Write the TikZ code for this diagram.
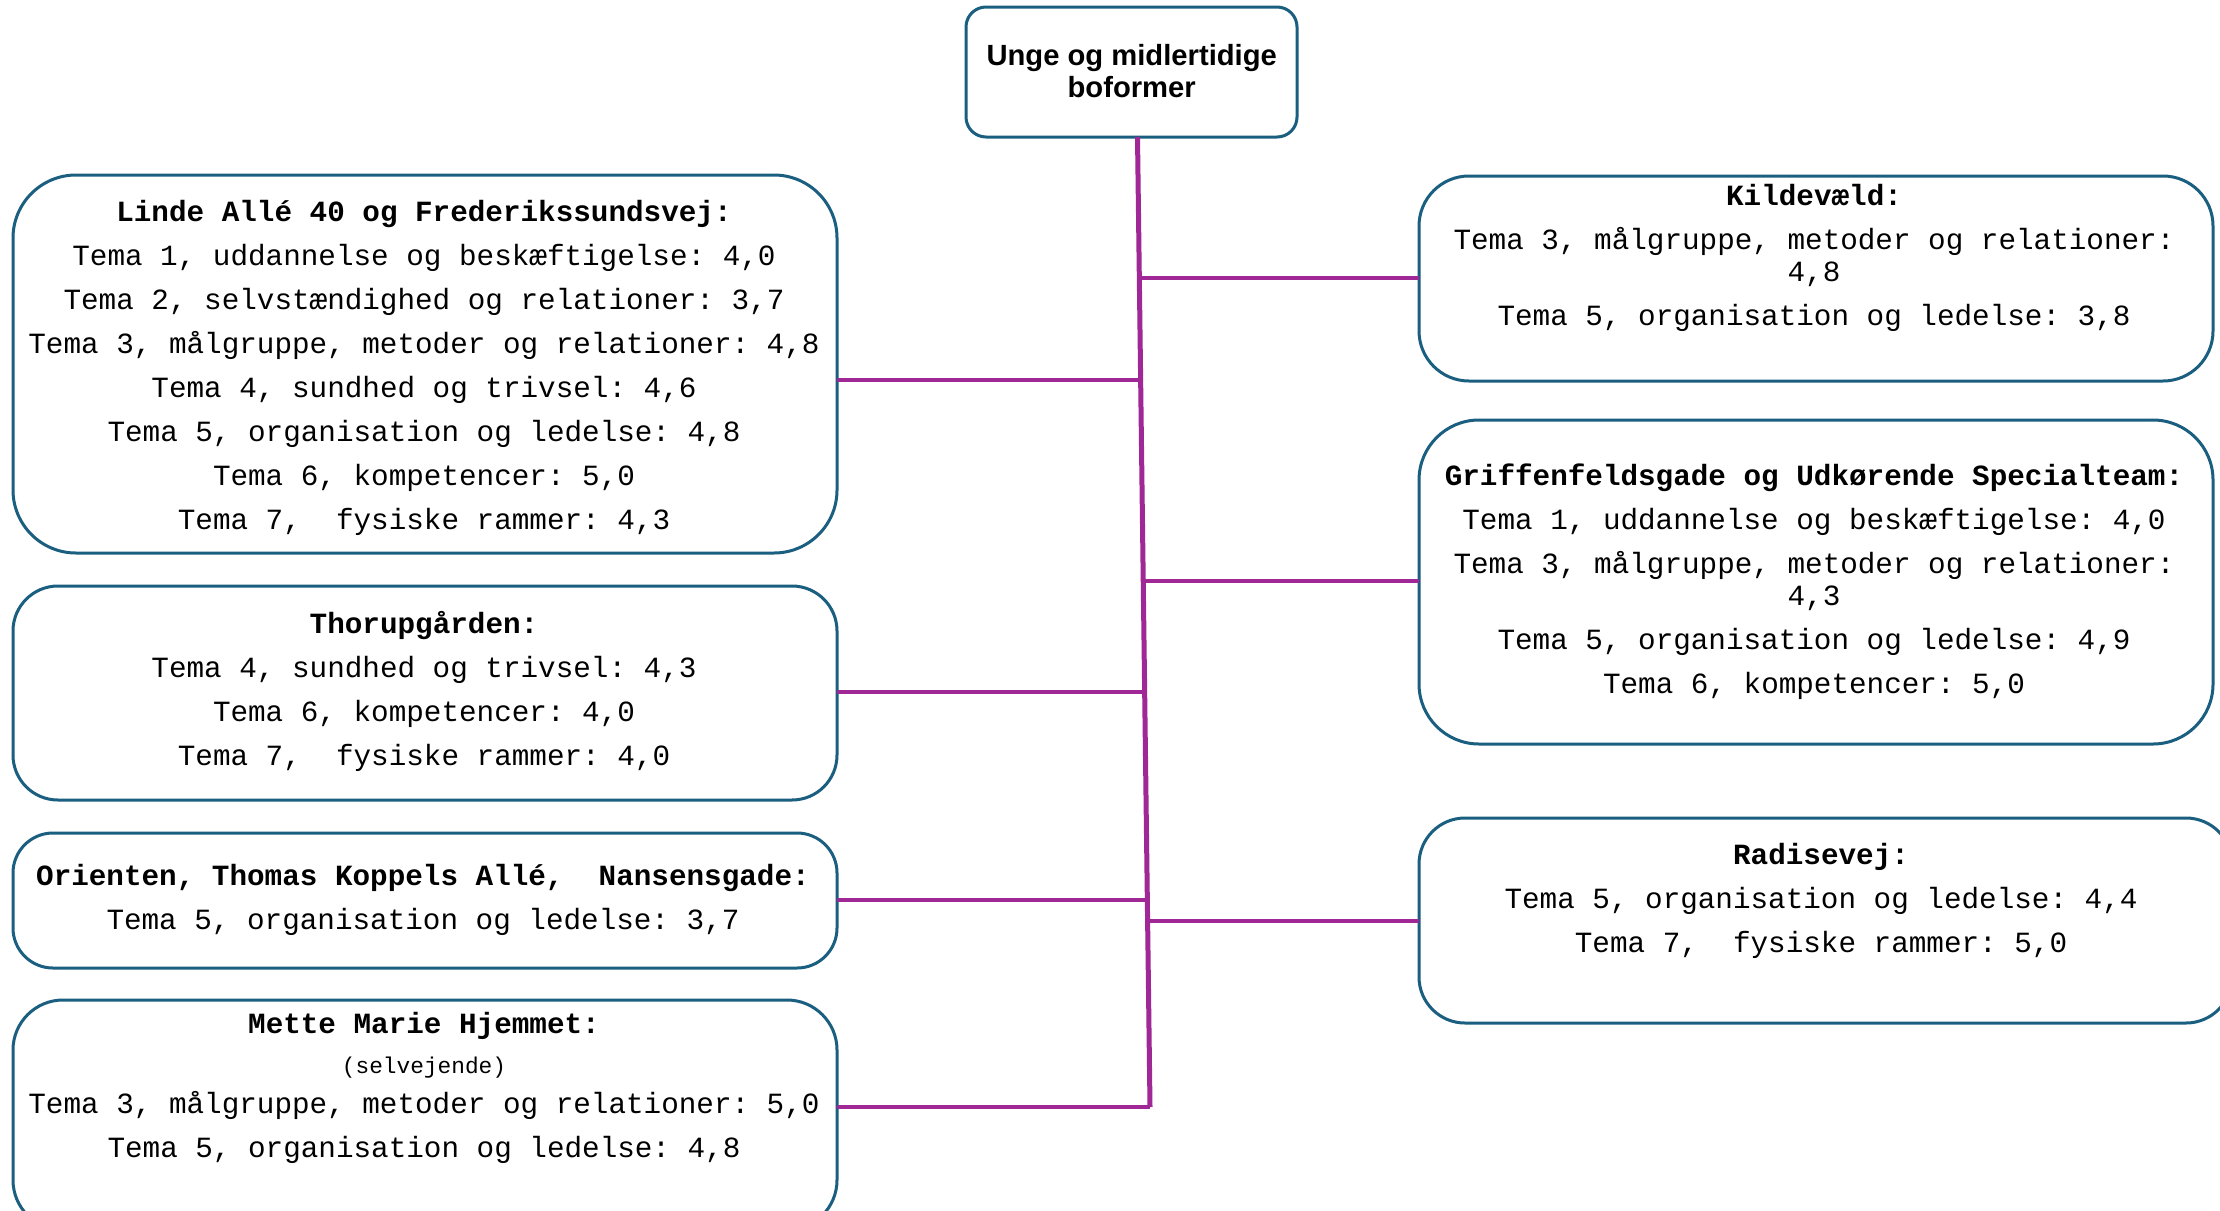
\documentclass[tikz,border=0pt]{standalone}
\usepackage{fontspec}
\setmainfont{Liberation Serif}
\setsansfont{Liberation Sans}
\setmonofont{Liberation Mono}
\usetikzlibrary{calc}
\definecolor{boxblue}{RGB}{26,94,128}
\definecolor{linkpurple}{RGB}{160,40,150}
\newcommand\fs{\rule{0pt}{14pt}}
\begin{document}
\begin{tikzpicture}[x=0.5pt,y=-0.5pt,
  box/.style={draw=boxblue,line width=1.5pt,rectangle,inner sep=0pt,outer sep=0pt},
  txt/.style={font=\ttfamily\fontsize{14.65pt}{15.85pt}\selectfont,align=center,inner sep=0pt,anchor=north},
  ttl/.style={font=\sffamily\bfseries\fontsize{14.6pt}{16pt}\selectfont,align=center,inner sep=0pt,anchor=north},
  link/.style={draw=linkpurple,line width=2pt},
  trunk/.style={draw=linkpurple,line width=2.5pt}]
\useasboundingbox (0,0) rectangle (2220,1210);
\fill[white] (0,0) rectangle (2220,1210);

% boxes
\node[box,minimum width=165.5pt,minimum height=65pt,rounded corners=10pt] (top) at (1131.5,72) {};
\node[box,minimum width=412pt,minimum height=189pt,rounded corners=31.5pt] (linde) at (425,364) {};
\node[box,minimum width=412pt,minimum height=107pt,rounded corners=22.5pt] (thor) at (425,693) {};
\node[box,minimum width=412pt,minimum height=67.5pt,rounded corners=20pt] (orient) at (425,900.5) {};
\node[box,minimum width=412pt,minimum height=115pt,rounded corners=25pt] (mette) at (425,1115) {};
\node[box,minimum width=397pt,minimum height=102.5pt,rounded corners=25pt] (kilde) at (1816,278.5) {};
\node[box,minimum width=397pt,minimum height=162pt,rounded corners=30pt] (griff) at (1816,582) {};
\node[box,minimum width=406.5pt,minimum height=102.5pt,rounded corners=23pt] (radis) at (1825.5,920.5) {};

% texts
\node[ttl] (toptxt) at (1131.7,37) {\fs Unge og midlertidige\\boformer};

\node[txt] (lindetxt) at (424,193) {\fs\textbf{Linde Allé 40 og Frederikssundsvej:}\\[6.15pt]
Tema 1, uddannelse og beskæftigelse: 4,0\\[6.15pt]
Tema 2, selvstændighed og relationer: 3,7\\[6.15pt]
Tema 3, målgruppe, metoder og relationer: 4,8\\[6.15pt]
Tema 4, sundhed og trivsel: 4,6\\[6.15pt]
Tema 5, organisation og ledelse: 4,8\\[6.15pt]
Tema 6, kompetencer: 5,0\\[6.15pt]
Tema 7,\ \ fysiske rammer: 4,3};

\node[txt] (thortxt) at (424,605.4) {\fs\textbf{Thorupgården:}\\[6.15pt]
Tema 4, sundhed og trivsel: 4,3\\[6.15pt]
Tema 6, kompetencer: 4,0\\[6.15pt]
Tema 7,\ \ fysiske rammer: 4,0};

\node[txt] (orienttxt) at (423,857) {\fs\textbf{Orienten, Thomas Koppels Allé,\ \ Nansensgade:}\\[6.15pt]
Tema 5, organisation og ledelse: 3,7};

\node[txt] (mettetxt) at (424,1005) {\fs\textbf{Mette Marie Hjemmet:}\\[4.15pt]
{\fontsize{11.4pt}{12pt}\selectfont (selvejende)}\\[4.15pt]
Tema 3, målgruppe, metoder og relationer: 5,0\\[6.15pt]
Tema 5, organisation og ledelse: 4,8};

\node[txt] (kildetxt) at (1814,177) {\fs\textbf{Kildevæld:}\\[6.15pt]
Tema 3, målgruppe, metoder og relationer:\\
4,8\\[6.15pt]
Tema 5, organisation og ledelse: 3,8};

\node[txt] (grifftxt) at (1814,457.3) {\fs\textbf{Griffenfeldsgade og Udkørende Specialteam:}\\[6.15pt]
Tema 1, uddannelse og beskæftigelse: 4,0\\[6.15pt]
Tema 3, målgruppe, metoder og relationer:\\
4,3\\[6.15pt]
Tema 5, organisation og ledelse: 4,9\\[6.15pt]
Tema 6, kompetencer: 5,0};

\node[txt] (radistxt) at (1821,836) {\fs\textbf{Radisevej:}\\[6.15pt]
Tema 5, organisation og ledelse: 4,4\\[6.15pt]
Tema 7,\ \ fysiske rammer: 5,0};

% trunk
\coordinate (tT) at (1137.5,137);
\coordinate (tB) at (1150,1107);
\draw[trunk] (tT) -- (tB);
\coordinate (j1) at ($(tT)!0.2505!(tB)$);
\coordinate (j2) at ($(tT)!0.5722!(tB)$);
\coordinate (j3) at ($(tT)!0.7866!(tB)$);
\coordinate (j4) at (tB);
\coordinate (k1) at ($(tT)!0.1454!(tB)$);
\coordinate (k2) at ($(tT)!0.4577!(tB)$);
\coordinate (k3) at ($(tT)!0.8082!(tB)$);

\draw[link] (linde.east |- j1) -- (j1);
\draw[link] (thor.east |- j2) -- (j2);
\draw[link] (orient.east |- j3) -- (j3);
\draw[link] (mette.east |- j4) -- (j4);
\draw[link] (k1) -- (kilde.west |- k1);
\draw[link] (k2) -- (griff.west |- k2);
\draw[link] (k3) -- (radis.west |- k3);
\end{tikzpicture}
\end{document}
